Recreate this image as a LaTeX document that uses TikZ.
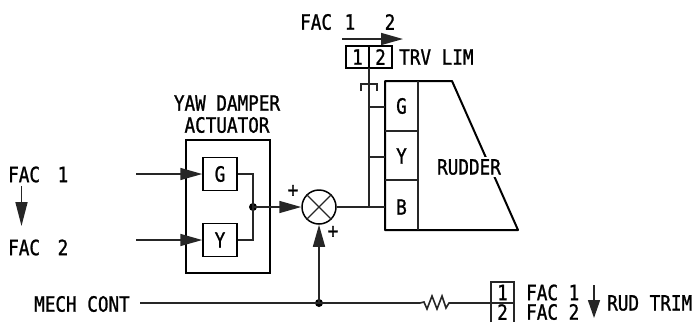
\documentclass[tikz,border=0pt]{standalone}
\usepackage{fontspec}
\setmainfont[FakeStretch=0.84,FakeBold=1.1]{DejaVu Sans Mono}
\usetikzlibrary{arrows.meta}
\tikzset{
  wire/.style={line width=1.6pt,black!85},
  heavy/.style={line width=2pt,black},
  feed/.style={wire,-{Triangle[length=22pt,width=12pt]}},
  lbl/.style={font=\fontsize{21}{22}\selectfont,inner sep=0pt,text=black},
  blockbox/.style={draw,line width=1.5pt,minimum width=34pt,minimum height=33pt,inner sep=0pt,font=\fontsize{21}{22}\selectfont},
  dotn/.style={circle,fill=black,inner sep=0pt,minimum size=8pt},
}
\begin{document}
\begin{tikzpicture}[x=1pt,y=-1pt]
\useasboundingbox (0,0) rectangle (695,322);
% yaw damper
\node[lbl] (yawa) at (227,103) {YAW DAMPER};
\node[lbl] (yawb) at (227,125) {ACTUATOR};
\node[draw,line width=1.5pt,minimum width=84pt,minimum height=133pt,inner sep=0pt] (act) at (228,206.5) {};
\node[blockbox] (g) at (220,174) {G};
\node[blockbox] (y) at (220,240) {Y};
\coordinate (ing) at (136,174);
\coordinate (iny) at (136,240);
\draw[feed] (ing) -- (g.west);
\draw[feed] (iny) -- (y.west);
\node[dotn] (j1) at (253,207) {};
\draw[wire] (g.east) -| (j1.center) |- (y.east);
\node[draw,circle,line width=1.5pt,minimum size=34pt,inner sep=0pt] (sum) at (319,207) {};
\draw[wire,line width=1.1pt] (sum.45) -- (sum.225) (sum.135) -- (sum.315);
\draw[feed] (j1.center) -- (sum.west);
\node[lbl] (p1) at (293,191) {+};
\node[lbl] (p2) at (333,232) {+};
% left labels
\node[lbl,anchor=west] (f1) at (8,174.5) {FAC\hspace{7pt} 1};
\node[lbl,anchor=west] (f2) at (8,247.5) {FAC\hspace{7pt} 2};
\draw[wire,-{Triangle[length=24pt,width=12pt]}] (21.5,186) -- (21.5,226);
% mech cont
\node[lbl,anchor=west] (mech) at (34,304) {MECH CONT};
\coordinate (ms) at (140,303);
\node[dotn] (j2) at (319,303) {};
\coordinate (r0) at (420,303);
\coordinate (r1) at (450,303);
\draw[feed] (j2.center) -- (sum.south);
\draw[wire] (ms) -- (j2.center) -- (r0)
  -- ++(4,-1) -- ++(3,7) -- ++(5,-13) -- ++(5,13) -- ++(5,-13) -- ++(4,12) -- ++(3,-5) -- (r1);
\coordinate (b0) at (491,282);
\coordinate (b1) at (514,303);
\draw[wire] (491,322) -- (b0) -- (514,282) -- (514,322);
\draw[wire] (r1) -- (b1);
\node[lbl] (n1) at (502.5,292.5) {1};
\node[lbl] (n2) at (502.5,312) {2};
\node[lbl,anchor=west] (tf1) at (526,292.5) {FAC 1};
\node[lbl,anchor=west] (tf2) at (526,312) {FAC 2};
\draw[wire,-{Triangle[length=18pt,width=12pt]}] (594,285) -- (594,318);
\node[lbl,anchor=west] (trim) at (607,303) {RUD TRIM};
% top
\node[lbl,anchor=west] (ft) at (300,22) {FAC};
\node[lbl] (ft1) at (350,22) {1};
\node[lbl] (ft2) at (390,22) {2};
\coordinate (a0) at (342,39);
\coordinate (a1) at (403,39);
\draw[wire,-{Triangle[length=22pt,width=12pt]}] (a0) -- (a1);
\node[draw,line width=1.5pt,minimum width=23pt,minimum height=22pt,inner sep=0pt,lbl] (c1) at (357.5,57) {1};
\node[draw,line width=1.5pt,minimum width=23pt,minimum height=22pt,inner sep=0pt,lbl] (c2) at (380.5,57) {2};
\node[lbl,anchor=west] (trv) at (399,57) {TRV LIM};
% rudder
\coordinate (rtl) at (385,81);
\coordinate (rtr) at (452,81);
\coordinate (rbr) at (518,230);
\coordinate (rbl) at (385,230);
\draw[heavy,line join=round] (rtr) -- (rtl) -- (rbl) -- (rbr) -- cycle;
\draw[wire] (418,81) -- (418,230);
\draw[wire] (385,131) -- (418,131) (385,180) -- (418,180);
\node[lbl] (sg) at (401.5,106) {G};
\node[lbl] (sy) at (401.5,156) {Y};
\node[lbl] (sb) at (401.5,207) {B};
\node[lbl,fill=white,inner sep=2pt] (rud) at (469,167) {RUDDER};
% feed lines to servo
\coordinate (v0) at (369,68);
\coordinate (v1) at (369,207);
\draw[wire] (sum.east) -- (v1) -- (v0);
\draw[wire] (v1) -- (rbl |- v1);
\draw[wire] (369,157) -- (385,157) (369,107) -- (385,107);
\draw[wire] (361,91) -- (361,84) -- (377,84) -- (377,91);
\end{tikzpicture}
\end{document}
